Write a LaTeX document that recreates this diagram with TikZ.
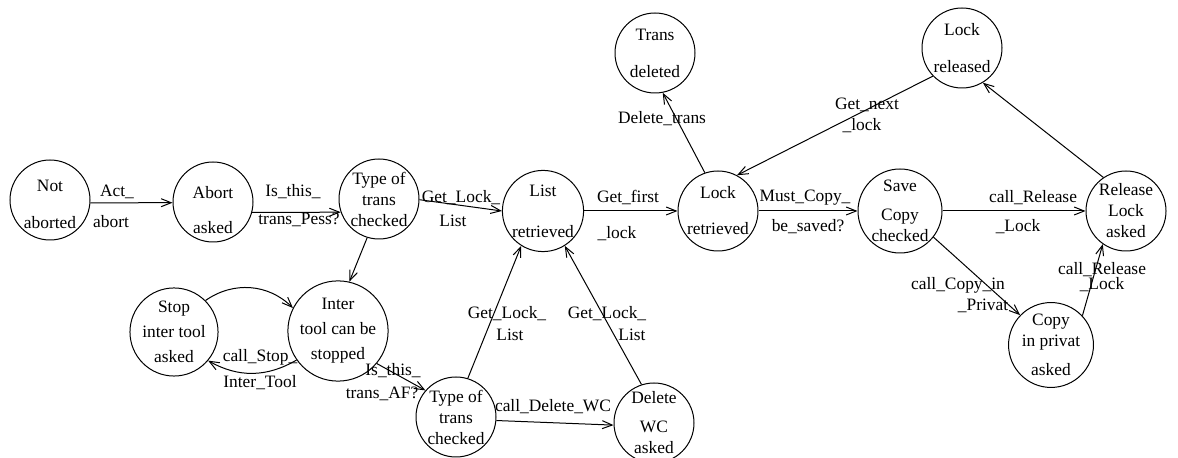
\documentclass[tikz,border=0pt]{standalone}
\usepackage{fontspec}
\setmainfont{Liberation Serif}
\newfontfamily\figfont{Liberation Serif}
\usetikzlibrary{arrows.meta}

\begin{document}
\begin{tikzpicture}[x=0.5pt,y=-0.5pt,
    state/.style={circle,draw,line width=0.5pt,minimum size=40pt,
      inner sep=0pt,align=center,font=\figfont\fontsize{8.7}{10.5}\selectfont},
    lbl/.style={font=\figfont\fontsize{8.7}{10.5}\selectfont,inner sep=0pt},
    trans/.style={line width=0.5pt,-{Straight Barb[length=5pt,width=4pt]}}]
  \useasboundingbox (0,0) rectangle (1178,458);

  % states, main row
  \node[state] (notab) at (50,200) {\mbox{}\\[-0.5pt]Not\\[8pt]aborted};
  \node[state] (abortask) at (213,202) {\mbox{}\\[3.5pt]Abort\\[7pt]asked};
  \node[state] (typea) at (379,199) {Type of\\trans\\checked};
  \node[state] (listret) at (543,211) {List\\[10pt]retrieved};
  \node[state] (lockret) at (718,211) {Lock\\[7.5pt]retrieved};
  \node[state] (savechk) at (900,211) {Save\\[4pt]Copy\\checked};
  \node[state] (relask) at (1126,211) {Release\\Lock\\asked};

  % states, upper row
  \node[state] (transdel) at (655,53) {Trans\\[8pt]deleted};
  \node[state] (lockrel) at (962,48) {Lock\\[8pt]released};

  % states, lower part
  \node[state] (stopask) at (174,332) {Stop\\[2pt]inter tool\\[2pt]asked};
  \node[state] (inter) at (338,331) {Inter\\[2pt]tool can be\\[2pt]stopped};
  \node[state] (typeb) at (456,417) {Type of\\trans\\checked};
  \node[state] (delwc) at (654,423) {Delete\\[4pt]WC\\asked};
  \node[state] (copypriv) at (1051,345) {Copy\\in privat\\[4pt]asked};

  % transitions
  \draw[trans] (notab.-4) -- (abortask.181);
  \draw[trans] (abortask.-15) -- (typea.199);
  \draw[trans] (typea.-1) -- (listret.180);
  \draw[trans] (listret.0) -- (lockret.180);
  \draw[trans] (lockret.0) -- (savechk.180);
  \draw[trans] (savechk.0) -- (relask.180);
  \draw[trans] (typea.253) -- (inter.77);
  \draw[trans] (stopask.45) to[bend left=40] (inter.153);
  \draw[trans] (inter.215) to[bend left=30] (stopask.320);
  \draw[trans] (inter.-40) -- (typeb.139);
  \draw[trans] (typeb.73) -- (listret.238);
  \draw[trans] (delwc.108) -- (listret.302);
  \draw[trans] (typeb.-5) -- (delwc.183);
  \draw[trans] (lockret.109) -- (transdel.281);
  \draw[trans] (lockrel.224) -- (lockret.62);
  \draw[trans] (relask.124) -- (lockrel.301);
  \draw[trans] (savechk.322) -- (copypriv.136);
  \draw[trans] (copypriv.43) -- (relask.235);

  % transition labels
  \node[lbl] (acta) at (117,192) {Act\_};
  \node[lbl] (actb) at (111,222) {abort};
  \node[lbl] (pessa) at (293,192) {Is\_this\_};
  \node[lbl] (pessb) at (299,220) {trans\_Pess?};
  \node[lbl] (gla) at (461,198) {Get\_Lock\_};
  \node[lbl] (glb) at (453,221) {List};
  \node[lbl] (gfa) at (628,198) {Get\_first};
  \node[lbl] (gfb) at (617,234) {\_lock};
  \node[lbl] (mca) at (805,198) {Must\_Copy\_};
  \node[lbl] (mcb) at (808,227) {be\_saved?};
  \node[lbl] (cra) at (1033,198) {call\_Release};
  \node[lbl] (crb) at (1018,227) {\_Lock};
  \node[lbl] (dtr) at (662,119) {Delete\_trans};
  \node[lbl] (gna) at (867,105) {Get\_next};
  \node[lbl] (gnb) at (862,126) {\_lock};
  \node[lbl] (cpa) at (958,285) {call\_Copy\_in};
  \node[lbl] (cpb) at (983,306) {\_Privat};
  \node[lbl] (rla) at (1102,270) {call\_Release};
  \node[lbl] (rlb) at (1102,285) {\_Lock};
  \node[lbl] (csa) at (260,357) {call\_Stop\_};
  \node[lbl] (csb) at (260,383) {Inter\_Tool};
  \node[lbl] (afa) at (393,371) {Is\_this\_};
  \node[lbl] (afb) at (382,394) {trans\_AF?};
  \node[lbl] (lla) at (507,314) {Get\_Lock\_};
  \node[lbl] (llb) at (510,335) {List};
  \node[lbl] (lra) at (607,314) {Get\_Lock\_};
  \node[lbl] (lrb) at (632,335) {List};
  \node[lbl] (dwc) at (553,407) {call\_Delete\_WC};
\end{tikzpicture}
\end{document}
